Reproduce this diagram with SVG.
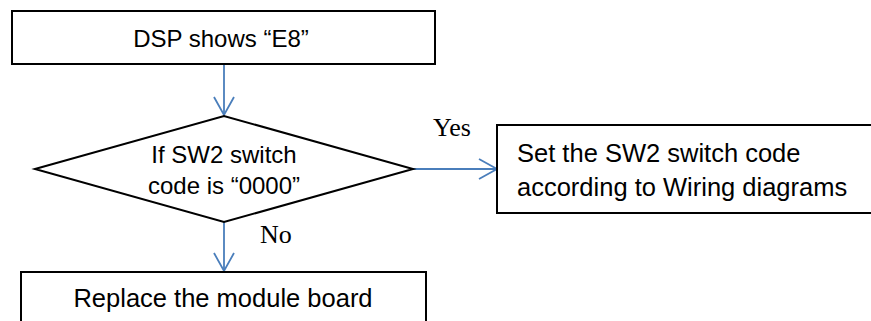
<svg xmlns="http://www.w3.org/2000/svg" width="871" height="321" viewBox="0 0 871 321">
<style>
.box{fill:#fff;stroke:#000;stroke-width:2}
.t{font-family:"Liberation Sans",Arial,sans-serif;font-size:25.5px;fill:#000}
.m{text-anchor:middle}
.lbl{font-family:"Liberation Serif","Times New Roman",serif;font-size:26px;fill:#000}
.c{fill:none;stroke:#4a7ebb;stroke-width:1.8}
</style>
<defs>
<marker id="ah" markerWidth="22" markerHeight="24" refX="19" refY="12" orient="auto" markerUnits="userSpaceOnUse">
<path d="M1,2 L19,12 L1,22" fill="none" stroke="#4a7ebb" stroke-width="1.8"/>
</marker>
</defs>
<g id="connectors">
<line class="c" x1="224" y1="64" x2="224" y2="115" marker-end="url(#ah)"/>
<line class="c" x1="413" y1="169" x2="497" y2="169" marker-end="url(#ah)"/>
<line class="c" x1="224" y1="222" x2="224" y2="271" marker-end="url(#ah)"/>
<text class="lbl" x="433" y="136">Yes</text>
<text class="lbl" x="260" y="243">No</text>
</g>
<g id="start">
<rect class="box" x="12" y="11" width="423" height="53"/>
<text class="t m" x="221" y="47" style="font-size:24px">DSP shows “E8”</text>
</g>
<g id="decision">
<polygon class="box" points="35,169 224,116 413,169 224,222"/>
<text class="t m" x="224" y="163" style="font-size:24px">If SW2 switch</text>
<text class="t m" x="224" y="194" style="font-size:24px">code is “0000”</text>
</g>
<g id="setcode">
<rect class="box" x="497" y="125" width="390" height="88"/>
<text class="t" x="517" y="162">Set the SW2 switch code</text>
<text class="t" x="517" y="196">according to Wiring diagrams</text>
</g>
<g id="replace">
<rect class="box" x="21" y="272" width="405" height="70"/>
<text class="t m" x="223" y="307">Replace the module board</text>
</g>
</svg>
